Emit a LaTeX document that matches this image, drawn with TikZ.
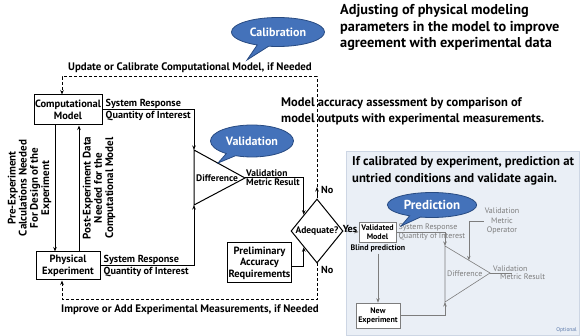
\documentclass[tikz,border=0pt]{standalone}
\usepackage{fontspec}
\setmainfont{PT Sans}
\usetikzlibrary{calc, positioning}
\usetikzlibrary{arrows.meta}
\usetikzlibrary{shapes.geometric, shapes.callouts}

\definecolor{bubblefill}{RGB}{68,114,186}
\definecolor{bubbleedge}{RGB}{40,75,130}
\definecolor{panelfill}{RGB}{234,239,246}
\definecolor{paneledge}{RGB}{205,214,228}
\definecolor{panelgray}{RGB}{125,125,125}
\definecolor{optblue}{RGB}{90,120,170}

\tikzset{
  blk/.style={draw, line width=1pt, fill=white, align=center, inner sep=1pt,
    font=\fontsize{10.5}{11.5}\selectfont\bfseries},
  lbl/.style={inner sep=1pt, font=\fontsize{10.2}{11}\selectfont\bfseries},
  note/.style={align=left, inner sep=0pt, anchor=north west,
    font=\fontsize{13}{16.5}\selectfont\bfseries},
  arr/.style={line width=1pt, -{Stealth[length=4.5pt,width=3.5pt]}},
  fb/.style={arr, dash pattern=on 3pt off 2pt},
  bubble/.style={ellipse callout, draw=bubbleedge, line width=0.8pt, fill=bubblefill,
    text=white, font=\fontsize{12}{13}\selectfont\bfseries},
  gblk/.style={blk, draw=panelgray, line width=0.6pt, font=\fontsize{8}{9}\selectfont\bfseries},
  glbl/.style={inner sep=1pt, text=panelgray, font=\fontsize{8}{9.5}\selectfont},
  garr/.style={arr, draw=panelgray, line width=0.6pt},
}

\begin{document}
\begin{tikzpicture}[x=1pt,y=-1pt]
\useasboundingbox (0,0) rectangle (581,336);

% prediction panel
\fill[panelfill, draw=paneledge] (346,151) rectangle (579,335);

% notes
\node[note, font=\fontsize{14.3}{16.8}\selectfont\bfseries] (adjnote) at (340,4) {Adjusting of physical modeling\\parameters in the model to improve\\agreement with experimental data};
\node[note, font=\fontsize{12.5}{16}\selectfont\bfseries] (accnote) at (281,97) {Model accuracy assessment by comparison of\\model outputs with experimental measurements.};
\node[note, font=\fontsize{12.7}{17}\selectfont\bfseries] (prednote) at (352,156) {If calibrated by experiment, prediction at\\untried conditions and validate again.};

% model and experiment
\node[blk, minimum width=68, minimum height=30] (comp) at (68,110) {Computational\\Model};
\node[blk, minimum width=64, minimum height=28] (phys) at (68,266) {Physical\\Experiment};
\node[lbl, anchor=south west] (srtop) at ([xshift=2pt]comp.east) {System Response};
\node[lbl, anchor=north west] (qitop) at ([xshift=2pt]comp.east) {Quantity of Interest};
\node[lbl, anchor=south west] (srbot) at ([xshift=2pt]phys.east) {System Response};
\node[lbl, anchor=north west] (qibot) at ([xshift=2pt]phys.east) {Quantity of Interest};

\draw[arr] ([xshift=-13pt]comp.south) -- ([xshift=-13pt]phys.north);
\draw[arr] ([xshift=11pt]phys.north) -- ([xshift=11pt]comp.south);
\node[lbl, rotate=90, align=center, font=\fontsize{11}{11.2}\selectfont\bfseries] (pretxt) at (29.5,188) {Pre-Experiment\\Calculations Needed\\For Design of the\\Experiment};
\node[lbl, rotate=90, align=center, font=\fontsize{11}{11.2}\selectfont\bfseries] (posttxt) at (99,188) {Post-Experiment Data\\Needed for the\\Computational Model};

% difference
\coordinate (dA) at (194,150);
\coordinate (dB) at (194,205);
\coordinate (dC) at (245,178);
\draw[line width=1pt, fill=white] (dA) -- (dC) -- (dB) -- cycle;
\node[lbl, anchor=west, font=\fontsize{9.5}{11}\selectfont\bfseries] (diff) at (195,178) {Difference};
\draw[arr] (comp.east) -| (dA);
\draw[arr] (phys.east) -| (dB);

% adequacy check
\node[draw, diamond, line width=1pt, fill=white, minimum width=52, minimum height=64, inner sep=0pt] (adq) at (317,231) {};
\node[lbl, font=\fontsize{9.5}{11}\selectfont\bfseries] (adqtxt) at (adq) {Adequate?};
\coordinate (adqin) at ($(adq.west)!0.5!(adq.north)$);
\coordinate (adqlo) at ($(adq.west)!0.5!(adq.south)$);
\draw[arr] (dC) -| (adqin);
\node[lbl, anchor=south west, font=\fontsize{9.5}{11}\selectfont\bfseries] (vmtop) at (dC) {Validation};
\node[lbl, anchor=north west, font=\fontsize{9.5}{11}\selectfont\bfseries] (vmbot) at (dC) {Metric Result};
\node[blk, minimum width=63, minimum height=40] (pre) at (259.5,263) {Preliminary\\Accuracy\\Requirements};
\draw[arr] ([yshift=-4pt]pre.east) -| (adqlo);

% feedback loops
\coordinate (noup) at (317,187);
\coordinate (tl) at (62,77);
\coordinate (bl) at (62,300);
\draw[arr] (adq.north) -- (noup);
\draw[fb] (noup) |- (tl) -- (tl |- comp.north);
\draw[fb] (adq.south) |- (bl) -- (bl |- phys.south);
\node[lbl, anchor=west] (notop) at (320,190) {No};
\node[lbl, anchor=west] (nobot) at (320,270) {No};
\node[lbl, anchor=south, font=\fontsize{10.9}{12}\selectfont\bfseries] (updlbl) at (190,74) {Update or Calibrate Computational Model, if Needed};
\node[lbl, anchor=north, font=\fontsize{10.9}{12}\selectfont\bfseries] (implbl) at (190,304) {Improve or Add Experimental Measurements, if Needed};

% prediction
\node[gblk, minimum width=37, minimum height=20] (valm) at (377.5,232) {Validated\\Model};
\draw[garr] (adq.east) -- (valm.west);
\node[lbl, anchor=south] (yes) at (350,234) {Yes};
\node[lbl, font=\fontsize{8}{9}\selectfont\bfseries, anchor=north] (blind) at (378,244) {Blind prediction};
\node[gblk, minimum width=44, minimum height=25] (newx) at (378,315.5) {New\\Experiment};
\draw[garr] (blind.south) -- (newx.north);

\coordinate (pA) at (445,246);
\coordinate (pB) at (445,302);
\coordinate (pC) at (490,273);
\draw[panelgray, line width=0.6pt] (pA) -- (pC) -- (pB) -- cycle;
\node[glbl, anchor=west] (pdiff) at (446,274) {Difference};
\draw[garr] (valm.east) -| (pA);
\draw[garr] (newx.east) -| (pB);
\node[glbl, anchor=south west] (psr) at ([xshift=1pt]valm.east) {System Response};
\node[glbl, anchor=north west] (pqi) at ([xshift=1pt]valm.east) {Quantity of Interest};
\node[glbl, align=center] (vmo) at (502,221) {Validation\\Metric\\Operator};
\coordinate (pin) at ($(pA)!0.53!(pC)$);
\draw[garr] (vmo.west) -| (pin);
\coordinate (pout) at (512,273);
\draw[panelgray, line width=0.6pt] (pC) -- (pout);
\node[glbl, anchor=south west] (pvm) at ([xshift=2pt]pC) {Validation};
\node[glbl, anchor=north west] (pmr) at ([xshift=9pt]pC) {Metric Result};
\node[font=\fontsize{5.5}{6}\selectfont, text=optblue, anchor=south east, inner sep=1pt] (opt) at (578,334) {Optional};

% callouts
\node[bubble, minimum width=93, minimum height=29, callout absolute pointer={(247,60)}] (calbub) at (278,32) {Calibration};
\node[bubble, minimum width=78, minimum height=32, callout absolute pointer={(218,163)}] (valbub) at (252,141) {Validation};
\node[bubble, minimum width=79, minimum height=25, callout absolute pointer={(401,226)}, font=\fontsize{13}{14}\selectfont\bfseries] (prebub) at (432,205) {Prediction};
\end{tikzpicture}
\end{document}
